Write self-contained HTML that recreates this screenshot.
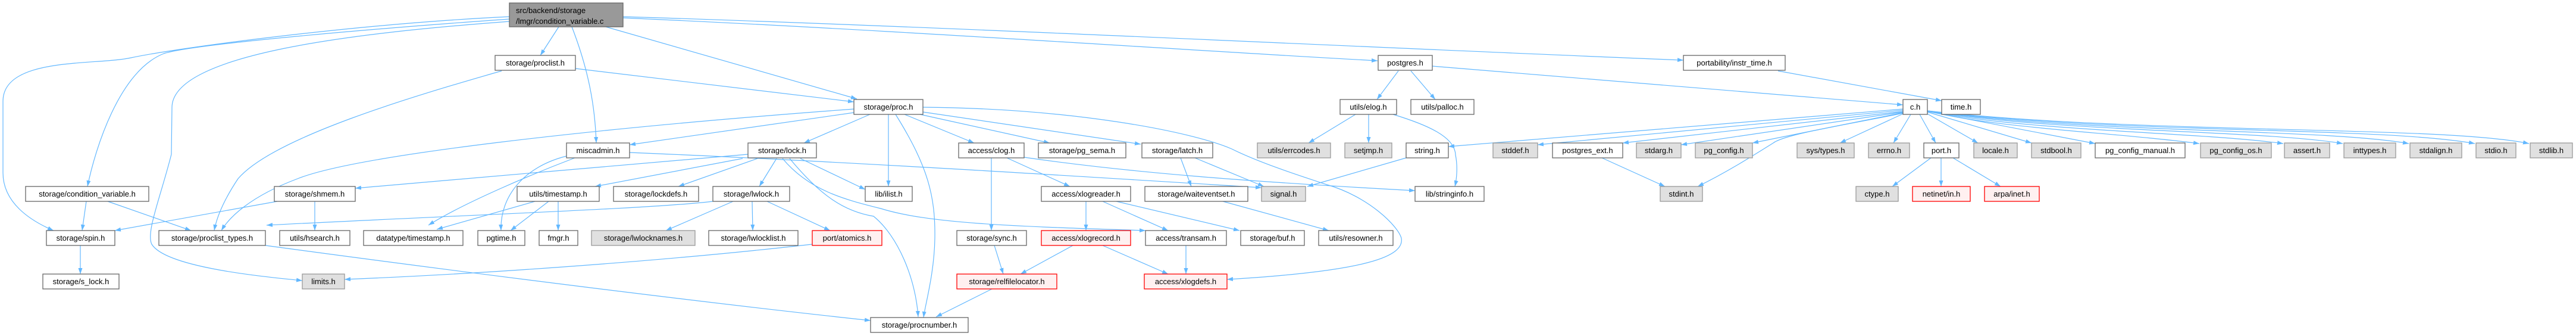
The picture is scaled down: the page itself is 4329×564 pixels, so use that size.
<!DOCTYPE html>
<html><head><meta charset="utf-8"><style>
html,body{margin:0;padding:0;background:#fff;}
svg{display:block;}
text{font-family:"Liberation Sans",sans-serif;font-size:13px;fill:#000;}
.e{fill:none;stroke:#63b8ff;stroke-width:1.2;marker-end:url(#a);}
.n rect{fill:#fff;stroke:#666;stroke-width:1.3;}
.g rect{fill:#e0e0e0;stroke:#999;stroke-width:1.3;}
.r rect{fill:#fff0f0;stroke:#f00;stroke-width:1.3;}
</style></head><body>
<svg width="4329" height="564" viewBox="0 0 4329 564" xmlns="http://www.w3.org/2000/svg">
<defs><marker id="a" markerUnits="userSpaceOnUse" markerWidth="11" markerHeight="8" refX="10" refY="3.5" orient="auto"><path d="M0,0 L10,3.5 L0,7 z" fill="#63b8ff"/></marker></defs>
<g>
<path class="e" d="M856,28 C600,40 300,80 220,97 C160,110 5,95 5,170 L5,290 C5,340 50,370 90,387"/>
<path class="e" d="M856,32 C600,50 320,75 275,90 C200,120 160,250 147,313"/>
<path class="e" d="M856,36 C600,55 290,90 289,180 L288,259 C270,330 245,390 255,410 C280,450 450,465 508,471"/>
<path class="e" d="M939,45 L908,93"/>
<path class="e" d="M961,45 C990,120 1000,180 1002,240"/>
<path class="e" d="M1018,45 L1440,166"/>
<path class="e" d="M1047,30 C1500,50 2000,85 2315,102"/>
<path class="e" d="M1047,28 C1600,45 2300,80 2829,101"/>
<path class="e" d="M843,119 C700,160 460,230 400,300 C380,330 365,360 360,387"/>
<path class="e" d="M967,115 L1435,171"/>
<path class="e" d="M1435,183 C1000,215 600,260 500,300 C420,330 385,365 372,387"/>
<path class="e" d="M1435,189 L1058,243"/>
<path class="e" d="M1462,192 L1351,240"/>
<path class="e" d="M1493,192 L1493,313"/>
<path class="e" d="M1505,192 C1560,280 1572,330 1571,400 C1570,460 1555,510 1552,533"/>
<path class="e" d="M1520,192 L1637,240"/>
<path class="e" d="M1546,192 L1764,240"/>
<path class="e" d="M1551,188 L1917,242"/>
<path class="e" d="M1551,180 C1800,182 2000,220 2070,250 C2120,275 2200,300 2230,310 C2300,330 2350,380 2355,400 C2360,430 2300,455 2062,469"/>
<path class="e" d="M1257,259 L597,316"/>
<path class="e" d="M1248,266 L1000,313"/>
<path class="e" d="M1273,266 L1140,313"/>
<path class="e" d="M1305,266 L1276,313"/>
<path class="e" d="M1345,266 L1454,318"/>
<path class="e" d="M1327,266 C1380,330 1420,355 1468,363 C1509,396 1539,468 1543,532"/>
<path class="e" d="M1315,266 C1360,320 1420,335 1480,350 C1560,375 1700,380 1925,387"/>
<path class="e" d="M1198,338 C1100,350 800,360 448,378"/>
<path class="e" d="M1232,338 L1119,387"/>
<path class="e" d="M1264,338 L1265,387"/>
<path class="e" d="M1289,338 L1395,387"/>
<path class="e" d="M1365,410 C1100,440 800,460 579,469"/>
<path class="e" d="M899,338 L734,385"/>
<path class="e" d="M922,338 L858,387"/>
<path class="e" d="M938,338 L938,387"/>
<path class="e" d="M966,265 C900,290 780,340 720,378"/>
<path class="e" d="M952,262 C880,280 840,330 842,387"/>
<path class="e" d="M1058,256 C1400,270 1800,295 2120,315"/>
<path class="e" d="M1666,265 L1666,387"/>
<path class="e" d="M1692,265 L1798,313"/>
<path class="e" d="M1721,264 C1900,290 2100,305 2378,320"/>
<path class="e" d="M1984,265 L2002,313"/>
<path class="e" d="M2008,265 L2124,313"/>
<path class="e" d="M2055,338 L2233,387"/>
<path class="e" d="M1825,338 L1825,387"/>
<path class="e" d="M1853,338 L1963,387"/>
<path class="e" d="M1876,338 L2083,387"/>
<path class="e" d="M1803,412 L1715,460"/>
<path class="e" d="M1853,412 L1963,460"/>
<path class="e" d="M1993,412 L1993,460"/>
<path class="e" d="M1671,412 L1686,460"/>
<path class="e" d="M1667,485 L1573,532"/>
<path class="e" d="M446,412 C800,460 1200,510 1463,538"/>
<path class="e" d="M466,338 L193,387"/>
<path class="e" d="M529,338 L529,387"/>
<path class="e" d="M145,338 L138,387"/>
<path class="e" d="M181,338 L321,387"/>
<path class="e" d="M135,412 L135,460"/>
<path class="e" d="M2278,192 L2199,240"/>
<path class="e" d="M2300,192 L2300,240"/>
<path class="e" d="M2341,192 C2400,210 2445,230 2446,260 C2450,280 2448,300 2445,313"/>
<path class="e" d="M2363,265 L2197,313"/>
<path class="e" d="M2350,119 L2314,167"/>
<path class="e" d="M2371,119 L2412,167"/>
<path class="e" d="M2407,111 L3198,176"/>
<path class="e" d="M2988,119 L3263,169"/>
<path class="e" d="M3198,183 L2434,246"/>
<path class="e" d="M3198,185 L2584,243"/>
<path class="e" d="M3198,187 L2727,240"/>
<path class="e" d="M3198,188 L2825,243"/>
<path class="e" d="M3198,189 L2945,240"/>
<path class="e" d="M3198,190 C3100,210 3000,225 2980,240 C2940,265 2900,290 2853,313"/>
<path class="e" d="M3198,191 L3092,240"/>
<path class="e" d="M3211,192 L3182,240"/>
<path class="e" d="M3226,192 L3253,240"/>
<path class="e" d="M3239,191 L3324,240"/>
<path class="e" d="M3239,188 L3414,240"/>
<path class="e" d="M3239,187 L3521,241"/>
<path class="e" d="M3239,186 C3350,215 3550,222 3696,241"/>
<path class="e" d="M3239,186 C3400,220 3700,222 3837,241"/>
<path class="e" d="M3239,186 C3450,222 3800,218 3937,241"/>
<path class="e" d="M3239,186 C3500,224 3900,215 4048,241"/>
<path class="e" d="M3239,186 C3550,225 4000,212 4159,241"/>
<path class="e" d="M3239,186 C3600,226 4100,210 4250,241"/>
<path class="e" d="M3245,265 L3180,313"/>
<path class="e" d="M3262,265 L3262,313"/>
<path class="e" d="M3282,265 L3362,313"/>
<path class="e" d="M2692,265 L2798,313"/>
</g>
<g>
<rect x="856" y="5" width="191" height="40" fill="#999" stroke="#666" stroke-width="1.3"/>
<text x="867" y="22">src/backend/storage</text>
<text x="867" y="40">/lmgr/condition_variable.c</text>
</g>
<g class="n"><rect x="832" y="93" width="135" height="25"/><text x="899.5" y="110" text-anchor="middle">storage/proclist.h</text></g>
<g class="n"><rect x="2316" y="93" width="91" height="25"/><text x="2361.5" y="110" text-anchor="middle">postgres.h</text></g>
<g class="n"><rect x="2829" y="93" width="171" height="25"/><text x="2914.5" y="110" text-anchor="middle">portability/instr_time.h</text></g>
<g class="n"><rect x="1435" y="167" width="116" height="25"/><text x="1493" y="184" text-anchor="middle">storage/proc.h</text></g>
<g class="n"><rect x="2252" y="167" width="95" height="25"/><text x="2299.5" y="184" text-anchor="middle">utils/elog.h</text></g>
<g class="n"><rect x="2371" y="167" width="106" height="25"/><text x="2424" y="184" text-anchor="middle">utils/palloc.h</text></g>
<g class="n"><rect x="3198" y="167" width="41" height="25"/><text x="3218.5" y="184" text-anchor="middle">c.h</text></g>
<g class="n"><rect x="3263" y="167" width="65" height="25"/><text x="3295.5" y="184" text-anchor="middle">time.h</text></g>
<g class="n"><rect x="952" y="240" width="106" height="25"/><text x="1005" y="257" text-anchor="middle">miscadmin.h</text></g>
<g class="n"><rect x="1257" y="240" width="115" height="25"/><text x="1314.5" y="257" text-anchor="middle">storage/lock.h</text></g>
<g class="n"><rect x="1611" y="240" width="110" height="25"/><text x="1666" y="257" text-anchor="middle">access/clog.h</text></g>
<g class="n"><rect x="1745" y="240" width="147" height="25"/><text x="1818.5" y="257" text-anchor="middle">storage/pg_sema.h</text></g>
<g class="n"><rect x="1919" y="240" width="119" height="25"/><text x="1978.5" y="257" text-anchor="middle">storage/latch.h</text></g>
<g class="g"><rect x="2113" y="240" width="123" height="25"/><text x="2174.5" y="257" text-anchor="middle">utils/errcodes.h</text></g>
<g class="g"><rect x="2260" y="240" width="79" height="25"/><text x="2299.5" y="257" text-anchor="middle">setjmp.h</text></g>
<g class="n"><rect x="2363" y="240" width="71" height="25"/><text x="2398.5" y="257" text-anchor="middle">string.h</text></g>
<g class="g"><rect x="2509" y="240" width="75" height="25"/><text x="2546.5" y="257" text-anchor="middle">stddef.h</text></g>
<g class="n"><rect x="2609" y="240" width="118" height="25"/><text x="2668" y="257" text-anchor="middle">postgres_ext.h</text></g>
<g class="g"><rect x="2750" y="240" width="75" height="25"/><text x="2787.5" y="257" text-anchor="middle">stdarg.h</text></g>
<g class="g"><rect x="2849" y="240" width="96" height="25"/><text x="2897" y="257" text-anchor="middle">pg_config.h</text></g>
<g class="g"><rect x="3020" y="240" width="96" height="25"/><text x="3068" y="257" text-anchor="middle">sys/types.h</text></g>
<g class="g"><rect x="3140" y="240" width="69" height="25"/><text x="3174.5" y="257" text-anchor="middle">errno.h</text></g>
<g class="n"><rect x="3233" y="240" width="59" height="25"/><text x="3262.5" y="257" text-anchor="middle">port.h</text></g>
<g class="g"><rect x="3317" y="240" width="73" height="25"/><text x="3353.5" y="257" text-anchor="middle">locale.h</text></g>
<g class="g"><rect x="3414" y="240" width="83" height="25"/><text x="3455.5" y="257" text-anchor="middle">stdbool.h</text></g>
<g class="n"><rect x="3521" y="240" width="151" height="25"/><text x="3596.5" y="257" text-anchor="middle">pg_config_manual.h</text></g>
<g class="g"><rect x="3698" y="240" width="119" height="25"/><text x="3757.5" y="257" text-anchor="middle">pg_config_os.h</text></g>
<g class="g"><rect x="3839" y="240" width="76" height="25"/><text x="3877" y="257" text-anchor="middle">assert.h</text></g>
<g class="g"><rect x="3939" y="240" width="87" height="25"/><text x="3982.5" y="257" text-anchor="middle">inttypes.h</text></g>
<g class="g"><rect x="4050" y="240" width="87" height="25"/><text x="4093.5" y="257" text-anchor="middle">stdalign.h</text></g>
<g class="g"><rect x="4161" y="240" width="67" height="25"/><text x="4194.5" y="257" text-anchor="middle">stdio.h</text></g>
<g class="g"><rect x="4252" y="240" width="71" height="25"/><text x="4287.5" y="257" text-anchor="middle">stdlib.h</text></g>
<g class="n"><rect x="43" y="313" width="207" height="25"/><text x="146.5" y="330" text-anchor="middle">storage/condition_variable.h</text></g>
<g class="n"><rect x="461" y="313" width="136" height="25"/><text x="529" y="330" text-anchor="middle">storage/shmem.h</text></g>
<g class="n"><rect x="869" y="313" width="138" height="25"/><text x="938" y="330" text-anchor="middle">utils/timestamp.h</text></g>
<g class="n"><rect x="1031" y="313" width="143" height="25"/><text x="1102.5" y="330" text-anchor="middle">storage/lockdefs.h</text></g>
<g class="n"><rect x="1198" y="313" width="129" height="25"/><text x="1262.5" y="330" text-anchor="middle">storage/lwlock.h</text></g>
<g class="n"><rect x="1454" y="313" width="79" height="25"/><text x="1493.5" y="330" text-anchor="middle">lib/ilist.h</text></g>
<g class="n"><rect x="1750" y="313" width="150" height="25"/><text x="1825" y="330" text-anchor="middle">access/xlogreader.h</text></g>
<g class="n"><rect x="1924" y="313" width="173" height="25"/><text x="2010.5" y="330" text-anchor="middle">storage/waiteventset.h</text></g>
<g class="g"><rect x="2120" y="313" width="74" height="25"/><text x="2157" y="330" text-anchor="middle">signal.h</text></g>
<g class="n"><rect x="2378" y="313" width="116" height="25"/><text x="2436" y="330" text-anchor="middle">lib/stringinfo.h</text></g>
<g class="g"><rect x="2790" y="313" width="71" height="25"/><text x="2825.5" y="330" text-anchor="middle">stdint.h</text></g>
<g class="g"><rect x="3119" y="313" width="71" height="25"/><text x="3154.5" y="330" text-anchor="middle">ctype.h</text></g>
<g class="r"><rect x="3214" y="313" width="97" height="25"/><text x="3262.5" y="330" text-anchor="middle">netinet/in.h</text></g>
<g class="r"><rect x="3335" y="313" width="92" height="25"/><text x="3381" y="330" text-anchor="middle">arpa/inet.h</text></g>
<g class="n"><rect x="78" y="387" width="115" height="25"/><text x="135.5" y="404" text-anchor="middle">storage/spin.h</text></g>
<g class="n"><rect x="267" y="387" width="179" height="25"/><text x="356.5" y="404" text-anchor="middle">storage/proclist_types.h</text></g>
<g class="n"><rect x="470" y="387" width="118" height="25"/><text x="529" y="404" text-anchor="middle">utils/hsearch.h</text></g>
<g class="n"><rect x="611" y="387" width="167" height="25"/><text x="694.5" y="404" text-anchor="middle">datatype/timestamp.h</text></g>
<g class="n"><rect x="803" y="387" width="79" height="25"/><text x="842.5" y="404" text-anchor="middle">pgtime.h</text></g>
<g class="n"><rect x="906" y="387" width="65" height="25"/><text x="938.5" y="404" text-anchor="middle">fmgr.h</text></g>
<g class="g"><rect x="994" y="387" width="174" height="25"/><text x="1081" y="404" text-anchor="middle">storage/lwlocknames.h</text></g>
<g class="n"><rect x="1191" y="387" width="150" height="25"/><text x="1266" y="404" text-anchor="middle">storage/lwlocklist.h</text></g>
<g class="r"><rect x="1365" y="387" width="117" height="25"/><text x="1423.5" y="404" text-anchor="middle">port/atomics.h</text></g>
<g class="n"><rect x="1608" y="387" width="117" height="25"/><text x="1666.5" y="404" text-anchor="middle">storage/sync.h</text></g>
<g class="r"><rect x="1750" y="387" width="150" height="25"/><text x="1825" y="404" text-anchor="middle">access/xlogrecord.h</text></g>
<g class="n"><rect x="1925" y="387" width="136" height="25"/><text x="1993" y="404" text-anchor="middle">access/transam.h</text></g>
<g class="n"><rect x="2085" y="387" width="107" height="25"/><text x="2138.5" y="404" text-anchor="middle">storage/buf.h</text></g>
<g class="n"><rect x="2216" y="387" width="125" height="25"/><text x="2278.5" y="404" text-anchor="middle">utils/resowner.h</text></g>
<g class="n"><rect x="72" y="460" width="128" height="25"/><text x="136" y="477" text-anchor="middle">storage/s_lock.h</text></g>
<g class="g"><rect x="508" y="460" width="71" height="25"/><text x="543.5" y="477" text-anchor="middle">limits.h</text></g>
<g class="r"><rect x="1608" y="460" width="168" height="25"/><text x="1692" y="477" text-anchor="middle">storage/relfilelocator.h</text></g>
<g class="r"><rect x="1923" y="460" width="139" height="25"/><text x="1992.5" y="477" text-anchor="middle">access/xlogdefs.h</text></g>
<g class="n"><rect x="1463" y="533" width="164" height="25"/><text x="1545" y="550" text-anchor="middle">storage/procnumber.h</text></g>
</svg>
</body></html>
